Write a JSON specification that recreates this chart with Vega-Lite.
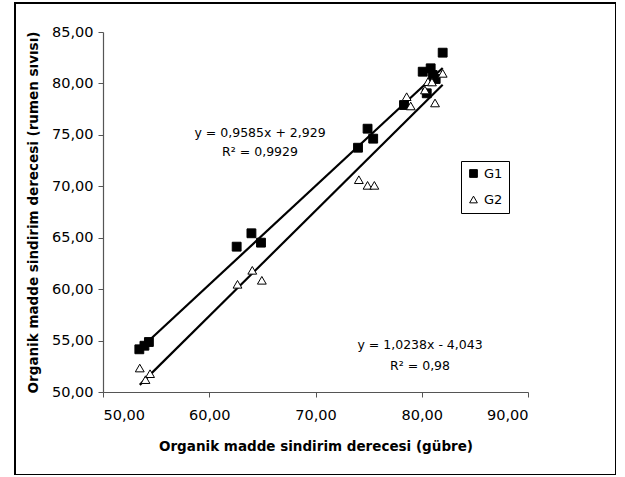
{
  "$schema": "https://vega.github.io/schema/vega-lite/v6.json",
  "width": 601,
  "height": 472,
  "autosize": "none",
  "padding": {"left": 15, "top": 3, "right": 0, "bottom": 0},
  "background": "white",
  "config": {
    "view": {"stroke": "#000", "strokeWidth": 2},
    "font": "DejaVu Sans"
  },
  "datasets": {
    "points": [
      {"group": "G1", "x": 53.42, "y": 54.15},
      {"group": "G1", "x": 53.9, "y": 54.5},
      {"group": "G1", "x": 54.32, "y": 54.86},
      {"group": "G1", "x": 62.58, "y": 64.13},
      {"group": "G1", "x": 63.97, "y": 65.43},
      {"group": "G1", "x": 64.87, "y": 64.52},
      {"group": "G1", "x": 74.0, "y": 73.75},
      {"group": "G1", "x": 74.9, "y": 75.6},
      {"group": "G1", "x": 75.43, "y": 74.63},
      {"group": "G1", "x": 78.33, "y": 77.9},
      {"group": "G1", "x": 80.09, "y": 81.14},
      {"group": "G1", "x": 80.84, "y": 81.47},
      {"group": "G1", "x": 81.03, "y": 80.82},
      {"group": "G1", "x": 81.31, "y": 80.43},
      {"group": "G1", "x": 80.47, "y": 79.04},
      {"group": "G1", "x": 81.97, "y": 82.99},
      {"group": "G2", "x": 53.46, "y": 52.33},
      {"group": "G2", "x": 54.0, "y": 51.2},
      {"group": "G2", "x": 54.43, "y": 51.78},
      {"group": "G2", "x": 62.66, "y": 60.47},
      {"group": "G2", "x": 64.05, "y": 61.83},
      {"group": "G2", "x": 64.95, "y": 60.86},
      {"group": "G2", "x": 74.08, "y": 70.64},
      {"group": "G2", "x": 74.9, "y": 70.09},
      {"group": "G2", "x": 75.54, "y": 70.09},
      {"group": "G2", "x": 78.58, "y": 78.71},
      {"group": "G2", "x": 78.96, "y": 77.81},
      {"group": "G2", "x": 80.3, "y": 79.36},
      {"group": "G2", "x": 80.59, "y": 80.17},
      {"group": "G2", "x": 80.96, "y": 80.14},
      {"group": "G2", "x": 81.25, "y": 78.1},
      {"group": "G2", "x": 81.97, "y": 80.98}
    ],
    "trend": [
      {"group": "G1", "x": 53.42, "y": 54.13},
      {"group": "G1", "x": 81.97, "y": 81.5},
      {"group": "G2", "x": 53.46, "y": 50.69},
      {"group": "G2", "x": 81.97, "y": 79.87}
    ],
    "notes": [
      {"x": 64.78, "y": 75.18, "text": "y = 0,9585x + 2,929"},
      {"x": 64.78, "y": 73.33, "text": "R² = 0,9929"},
      {"x": 79.84, "y": 54.57, "text": "y = 1,0238x - 4,043"},
      {"x": 79.84, "y": 52.53, "text": "R² = 0,98"}
    ]
  },
  "layer": [
    {
      "data": {"name": "trend"},
      "mark": {"type": "line", "color": "#000", "strokeWidth": 2.2},
      "encoding": {
        "x": {"field": "x", "type": "quantitative"},
        "y": {"field": "y", "type": "quantitative"},
        "detail": {"field": "group"}
      }
    },
    {
      "data": {"name": "points"},
      "mark": {"type": "point", "filled": true, "stroke": "#000", "strokeWidth": 1, "opacity": 1, "size": 78},
      "encoding": {
        "x": {"field": "x", "type": "quantitative"},
        "y": {"field": "y", "type": "quantitative"},
        "shape": {
          "field": "group", "type": "nominal",
          "scale": {"domain": ["G1", "G2"], "range": ["square", "triangle-up"]},
          "legend": null
        },
        "color": {
          "field": "group", "type": "nominal",
          "scale": {"domain": ["G1", "G2"], "range": ["#000", "#fff"]},
          "legend": {
            "title": null, "orient": "none", "legendX": 446, "legendY": 158,
            "strokeColor": "#000", "fillColor": "#fff", "padding": 6,
            "rowPadding": 12, "labelFont": "DejaVu Sans", "labelFontSize": 13,
            "labelColor": "#000", "labelOffset": 4, "symbolSize": 60,
            "symbolStrokeColor": "#000", "symbolStrokeWidth": 1, "symbolOpacity": 1,
            "encode": {
              "symbols": {
                "update": {
                  "shape": {"scale": "shape", "field": "value"},
                  "fill": {"scale": "color", "field": "value"},
                  "stroke": {"value": "#000"},
                  "strokeWidth": {"value": 1},
                  "opacity": {"value": 1}
                }
              }
            }
          }
        }
      }
    },
    {
      "data": {"name": "notes"},
      "mark": {"type": "text", "font": "DejaVu Sans", "fontSize": 12.5, "color": "#000", "align": "center", "baseline": "middle"},
      "encoding": {
        "x": {"field": "x", "type": "quantitative"},
        "y": {"field": "y", "type": "quantitative"},
        "text": {"field": "text"}
      }
    }
  ],
  "resolve": {"scale": {"x": "shared", "y": "shared"}},
  "encoding": {
    "x": {
      "field": "x", "type": "quantitative",
      "scale": {"domain": [50, 90], "range": [88, 513], "nice": false, "zero": false},
      "axis": {
        "title": "Organik madde sindirim derecesi (gübre)",
        "values": [50, 60, 70, 80, 90],
        "labelExpr": "replace(format(datum.value, '.2f'), '.', ',')",
        "offset": -83, "grid": false,
        "domainColor": "#555", "domainWidth": 1.2, "tickColor": "#555", "tickSize": 5,
        "labelFont": "DejaVu Sans", "labelFontSize": 14.5, "labelColor": "#000", "labelPadding": 11,
        "titleFont": "DejaVu Sans", "titleFontSize": 13.5, "titleFontWeight": "bold", "titleColor": "#000", "titlePadding": 18
      }
    },
    "y": {
      "field": "y", "type": "quantitative",
      "scale": {"domain": [50, 85], "range": [389, 29], "nice": false, "zero": false},
      "axis": {
        "title": "Organik madde sindirim derecesi (rumen sıvısı)",
        "values": [50, 55, 60, 65, 70, 75, 80, 85],
        "labelExpr": "replace(format(datum.value, '.2f'), '.', ',')",
        "offset": -88, "grid": false,
        "domainColor": "#555", "domainWidth": 1.2, "tickColor": "#555", "tickSize": 5,
        "labelFont": "DejaVu Sans", "labelFontSize": 14.5, "labelColor": "#000", "labelPadding": 5,
        "titleFont": "DejaVu Sans", "titleFontSize": 13.5, "titleFontWeight": "bold", "titleColor": "#000", "titlePadding": 11
      }
    }
  }
}
